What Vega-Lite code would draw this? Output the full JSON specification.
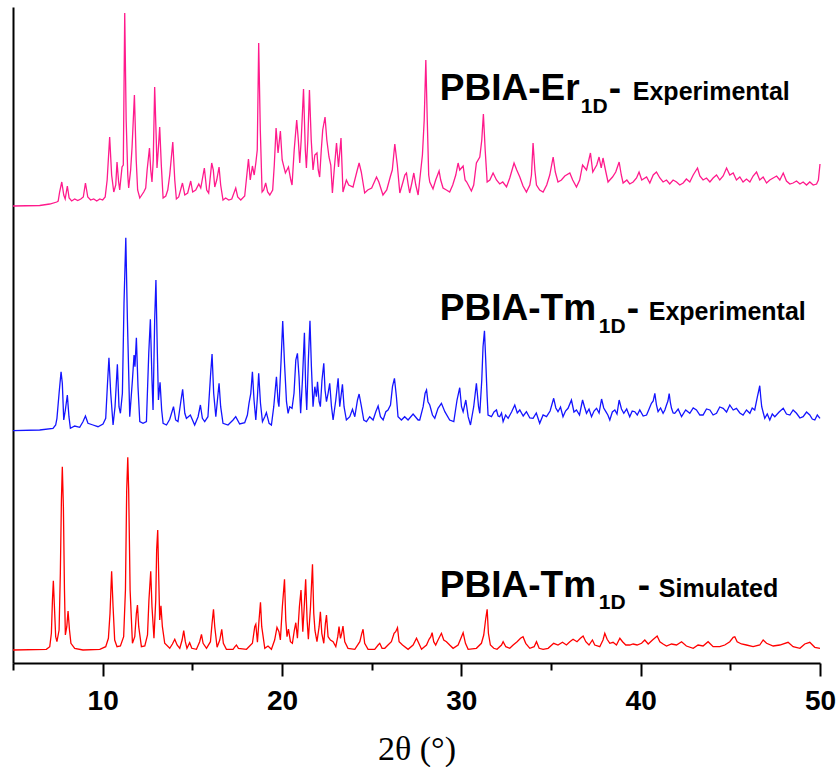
{
"$schema":"https://vega.github.io/schema/vega-lite/v6.json",
"width":807,"height":656,
"autosize":"none",
"padding":{"left":13,"top":7,"right":19,"bottom":104},
"background":"white",
"config":{"view":{"stroke":null},"font":"Liberation Sans"},
"layer":[
{"data":{"values":[
{"x":5,"y":457},{"x":6.49,"y":457.5},{"x":7.05,"y":459},{"x":7.44,"y":461},{"x":7.52,"y":462},{"x":7.6,"y":471},{"x":7.72,"y":481},{"x":7.83,"y":468},{"x":7.91,"y":464},{"x":8.03,"y":477},{"x":8.13,"y":465},{"x":8.27,"y":462},{"x":8.44,"y":464},{"x":8.61,"y":462.5},{"x":8.78,"y":464},{"x":8.92,"y":466},{"x":9.04,"y":480},{"x":9.17,"y":466},{"x":9.33,"y":463},{"x":9.5,"y":464},{"x":9.67,"y":462},{"x":9.84,"y":464},{"x":10,"y":463},{"x":10.14,"y":466},{"x":10.25,"y":483},{"x":10.39,"y":526},{"x":10.5,"y":488},{"x":10.62,"y":471},{"x":10.73,"y":478},{"x":10.8,"y":501},{"x":10.89,"y":481},{"x":10.95,"y":473},{"x":11.08,"y":496},{"x":11.15,"y":498},{"x":11.23,"y":650},{"x":11.31,"y":543},{"x":11.4,"y":488},{"x":11.45,"y":475},{"x":11.56,"y":493},{"x":11.64,"y":516},{"x":11.77,"y":568},{"x":11.87,"y":503},{"x":11.95,"y":473},{"x":12.07,"y":465},{"x":12.18,"y":468},{"x":12.29,"y":471},{"x":12.4,"y":475},{"x":12.48,"y":493},{"x":12.61,"y":515},{"x":12.68,"y":493},{"x":12.75,"y":481},{"x":12.82,"y":503},{"x":12.9,"y":576},{"x":12.99,"y":523},{"x":13.03,"y":495},{"x":13.1,"y":513},{"x":13.18,"y":536},{"x":13.27,"y":498},{"x":13.37,"y":465},{"x":13.52,"y":467},{"x":13.63,"y":473},{"x":13.74,"y":488},{"x":13.91,"y":521},{"x":14.02,"y":483},{"x":14.11,"y":464},{"x":14.24,"y":466},{"x":14.45,"y":480},{"x":14.58,"y":468},{"x":14.74,"y":470},{"x":14.91,"y":482},{"x":15.02,"y":471},{"x":15.19,"y":473},{"x":15.36,"y":479},{"x":15.47,"y":475},{"x":15.67,"y":495},{"x":15.8,"y":473},{"x":15.91,"y":470},{"x":16.08,"y":500},{"x":16.17,"y":493},{"x":16.25,"y":476},{"x":16.36,"y":483},{"x":16.49,"y":496},{"x":16.58,"y":478},{"x":16.71,"y":463},{"x":16.86,"y":465},{"x":17.03,"y":463},{"x":17.2,"y":464},{"x":17.42,"y":475},{"x":17.53,"y":466},{"x":17.7,"y":463},{"x":17.92,"y":467},{"x":18.13,"y":504},{"x":18.23,"y":483},{"x":18.35,"y":497},{"x":18.45,"y":488},{"x":18.54,"y":500},{"x":18.62,"y":513},{"x":18.7,"y":620},{"x":18.79,"y":533},{"x":18.89,"y":471},{"x":18.98,"y":473},{"x":19.09,"y":480},{"x":19.2,"y":471},{"x":19.32,"y":468},{"x":19.48,"y":473},{"x":19.57,"y":498},{"x":19.67,"y":535},{"x":19.78,"y":510},{"x":19.91,"y":532},{"x":20.01,"y":503},{"x":20.19,"y":490},{"x":20.36,"y":496},{"x":20.49,"y":483},{"x":20.56,"y":478},{"x":20.68,"y":513},{"x":20.82,"y":543},{"x":20.91,"y":523},{"x":20.99,"y":500},{"x":21.07,"y":523},{"x":21.2,"y":574},{"x":21.3,"y":513},{"x":21.36,"y":495},{"x":21.44,"y":523},{"x":21.53,"y":573},{"x":21.63,"y":523},{"x":21.73,"y":493},{"x":21.83,"y":508},{"x":21.95,"y":510},{"x":22.02,"y":493},{"x":22.1,"y":486},{"x":22.19,"y":513},{"x":22.27,"y":533},{"x":22.4,"y":546},{"x":22.5,"y":523},{"x":22.62,"y":506},{"x":22.72,"y":498},{"x":22.81,"y":470},{"x":22.91,"y":493},{"x":23.04,"y":520},{"x":23.15,"y":496},{"x":23.29,"y":525},{"x":23.4,"y":471},{"x":23.59,"y":483},{"x":23.72,"y":478},{"x":23.96,"y":476},{"x":24.17,"y":491},{"x":24.3,"y":500},{"x":24.42,"y":491},{"x":24.61,"y":470},{"x":24.78,"y":473},{"x":25,"y":475},{"x":25.27,"y":486},{"x":25.4,"y":481},{"x":25.63,"y":468},{"x":25.84,"y":473},{"x":26.05,"y":487},{"x":26.15,"y":493},{"x":26.29,"y":519},{"x":26.43,"y":498},{"x":26.57,"y":470},{"x":26.73,"y":480},{"x":26.85,"y":488},{"x":26.94,"y":490},{"x":27.04,"y":478},{"x":27.12,"y":470},{"x":27.24,"y":480},{"x":27.35,"y":490},{"x":27.46,"y":478},{"x":27.59,"y":468},{"x":27.71,"y":488},{"x":27.83,"y":508},{"x":27.93,"y":543},{"x":28.02,"y":603},{"x":28.1,"y":543},{"x":28.18,"y":488},{"x":28.24,"y":481},{"x":28.42,"y":474},{"x":28.57,"y":483},{"x":28.76,"y":492},{"x":28.85,"y":483},{"x":28.98,"y":475},{"x":29.17,"y":473},{"x":29.35,"y":471},{"x":29.52,"y":478},{"x":29.69,"y":488},{"x":29.82,"y":500},{"x":29.91,"y":493},{"x":30.1,"y":497},{"x":30.21,"y":483},{"x":30.3,"y":481},{"x":30.56,"y":472},{"x":30.69,"y":478},{"x":30.84,"y":500},{"x":31.03,"y":506},{"x":31.14,"y":523},{"x":31.23,"y":549},{"x":31.33,"y":513},{"x":31.44,"y":481},{"x":31.59,"y":483},{"x":31.77,"y":490},{"x":31.96,"y":483},{"x":32.14,"y":479},{"x":32.31,"y":481},{"x":32.52,"y":476},{"x":32.7,"y":485},{"x":32.94,"y":500},{"x":33.09,"y":493},{"x":33.26,"y":486},{"x":33.44,"y":477},{"x":33.63,"y":471},{"x":33.82,"y":478},{"x":33.91,"y":488},{"x":34,"y":520},{"x":34.1,"y":493},{"x":34.19,"y":478},{"x":34.37,"y":473},{"x":34.56,"y":471},{"x":34.76,"y":478},{"x":34.93,"y":488},{"x":35.12,"y":506},{"x":35.24,"y":491},{"x":35.39,"y":481},{"x":35.58,"y":483},{"x":35.77,"y":487},{"x":36.05,"y":490},{"x":36.21,"y":483},{"x":36.42,"y":476},{"x":36.6,"y":483},{"x":36.76,"y":498},{"x":36.98,"y":493},{"x":37.2,"y":510},{"x":37.33,"y":491},{"x":37.55,"y":498},{"x":37.68,"y":506},{"x":37.8,"y":495},{"x":37.9,"y":505},{"x":38.06,"y":491},{"x":38.18,"y":481},{"x":38.28,"y":483},{"x":38.43,"y":486},{"x":38.61,"y":491},{"x":38.8,"y":501},{"x":38.92,"y":488},{"x":39.02,"y":480},{"x":39.23,"y":483},{"x":39.39,"y":479},{"x":39.58,"y":481},{"x":39.77,"y":485},{"x":39.91,"y":491},{"x":40.06,"y":483},{"x":40.33,"y":486},{"x":40.51,"y":480},{"x":40.7,"y":488},{"x":40.88,"y":491},{"x":41.07,"y":485},{"x":41.25,"y":481},{"x":41.44,"y":483},{"x":41.62,"y":479},{"x":41.81,"y":483},{"x":42,"y":481},{"x":42.18,"y":478},{"x":42.37,"y":480},{"x":42.55,"y":484},{"x":42.74,"y":481},{"x":42.93,"y":488},{"x":43.17,"y":495},{"x":43.3,"y":487},{"x":43.48,"y":483},{"x":43.67,"y":485},{"x":43.86,"y":481},{"x":44.04,"y":485},{"x":44.23,"y":488},{"x":44.41,"y":483},{"x":44.6,"y":487},{"x":44.79,"y":495},{"x":44.97,"y":488},{"x":45.16,"y":490},{"x":45.34,"y":483},{"x":45.53,"y":486},{"x":45.71,"y":481},{"x":45.9,"y":484},{"x":46.09,"y":481},{"x":46.27,"y":487},{"x":46.46,"y":491},{"x":46.64,"y":483},{"x":46.83,"y":486},{"x":47.02,"y":480},{"x":47.2,"y":483},{"x":47.39,"y":485},{"x":47.58,"y":487},{"x":47.76,"y":483},{"x":47.95,"y":490},{"x":48.13,"y":482},{"x":48.32,"y":479},{"x":48.5,"y":480},{"x":48.69,"y":482},{"x":48.88,"y":479},{"x":49.06,"y":481},{"x":49.25,"y":478},{"x":49.43,"y":481},{"x":49.62,"y":478},{"x":49.81,"y":479},{"x":49.91,"y":483},{"x":50,"y":499}
]},
"mark":{"type":"line","color":"#ff1a8c","strokeWidth":1.3},
"encoding":{
"x":{"field":"x","type":"quantitative","scale":{"domain":[5,50],"nice":false,"zero":false},
"axis":{"values":[5,10,15,20,25,30,35,40,45,50],"labelExpr":"datum.value % 10 === 0 ? datum.label : ''","tickSize":{"condition":{"test":"datum.value % 10 === 0","value":13},"value":7},"tickWidth":2,"tickColor":"black","domainColor":"black","domainWidth":2,"grid":false,"labelFont":"Liberation Sans","labelFontSize":28,"labelFontWeight":"bold","labelColor":"black","labelPadding":11,"labelFlush":false,"labelOverlap":false,"title":"2θ (°)","titleFont":"Liberation Serif","titleFontSize":34,"titleFontWeight":"normal","titleColor":"black","titlePadding":17}},
"y":{"field":"y","type":"quantitative","scale":{"domain":[0,656],"nice":false,"zero":false},
"axis":{"title":null,"labels":false,"ticks":false,"grid":false,"domainColor":"black","domainWidth":2}}
}},
{"data":{"values":[
{"x":5,"y":232.3},{"x":6.49,"y":233},{"x":7.23,"y":234.7},{"x":7.38,"y":238},{"x":7.45,"y":244.7},{"x":7.57,"y":269.7},{"x":7.68,"y":291.3},{"x":7.75,"y":279.7},{"x":7.83,"y":243},{"x":7.92,"y":253},{"x":8.03,"y":268},{"x":8.12,"y":246.3},{"x":8.2,"y":234.7},{"x":8.44,"y":237},{"x":8.72,"y":235.7},{"x":8.9,"y":241.3},{"x":9.04,"y":247},{"x":9.18,"y":239.7},{"x":9.46,"y":238},{"x":9.74,"y":236.3},{"x":10.02,"y":239},{"x":10.17,"y":244.7},{"x":10.26,"y":276.3},{"x":10.35,"y":305.3},{"x":10.45,"y":269.7},{"x":10.58,"y":238},{"x":10.69,"y":256.3},{"x":10.82,"y":298.7},{"x":10.91,"y":256.3},{"x":10.99,"y":249.7},{"x":11.1,"y":269.7},{"x":11.19,"y":359.7},{"x":11.29,"y":425.3},{"x":11.38,"y":343},{"x":11.51,"y":246.3},{"x":11.66,"y":283},{"x":11.75,"y":308},{"x":11.8,"y":296.3},{"x":11.88,"y":325.3},{"x":11.97,"y":276.3},{"x":12.07,"y":241.3},{"x":12.25,"y":239.7},{"x":12.44,"y":241.3},{"x":12.57,"y":309.7},{"x":12.66,"y":343.7},{"x":12.75,"y":283},{"x":12.81,"y":253},{"x":12.9,"y":343},{"x":12.97,"y":383},{"x":13.05,"y":309.7},{"x":13.11,"y":263},{"x":13.2,"y":280.7},{"x":13.29,"y":253},{"x":13.37,"y":239.7},{"x":13.56,"y":238},{"x":13.74,"y":243.7},{"x":13.95,"y":256.3},{"x":14.07,"y":243},{"x":14.2,"y":241.3},{"x":14.37,"y":263},{"x":14.46,"y":273.7},{"x":14.58,"y":249.7},{"x":14.67,"y":244.7},{"x":14.78,"y":246.3},{"x":14.89,"y":248},{"x":15.13,"y":238},{"x":15.32,"y":246.3},{"x":15.45,"y":258},{"x":15.56,"y":244.7},{"x":15.69,"y":241.3},{"x":15.87,"y":246.3},{"x":16.01,"y":286.3},{"x":16.1,"y":309},{"x":16.19,"y":269.7},{"x":16.31,"y":246.3},{"x":16.4,"y":263},{"x":16.49,"y":279.7},{"x":16.58,"y":256.3},{"x":16.71,"y":239.7},{"x":16.99,"y":238},{"x":17.27,"y":243},{"x":17.42,"y":246.3},{"x":17.64,"y":239},{"x":17.92,"y":240.3},{"x":18.07,"y":248},{"x":18.16,"y":259.7},{"x":18.26,"y":269.7},{"x":18.35,"y":291.3},{"x":18.44,"y":263},{"x":18.54,"y":243},{"x":18.63,"y":266.3},{"x":18.7,"y":289.7},{"x":18.8,"y":259.7},{"x":18.91,"y":241.3},{"x":19.04,"y":246.3},{"x":19.13,"y":250.3},{"x":19.28,"y":239.7},{"x":19.41,"y":238},{"x":19.54,"y":256.3},{"x":19.69,"y":286.3},{"x":19.78,"y":261.3},{"x":19.83,"y":256.3},{"x":19.95,"y":303},{"x":20.04,"y":342},{"x":20.14,"y":299.7},{"x":20.25,"y":261.3},{"x":20.34,"y":249.7},{"x":20.43,"y":256.3},{"x":20.56,"y":254.7},{"x":20.67,"y":269.7},{"x":20.77,"y":303},{"x":20.86,"y":309.7},{"x":20.95,"y":286.3},{"x":21.04,"y":249.7},{"x":21.14,"y":283},{"x":21.25,"y":330.3},{"x":21.32,"y":276.3},{"x":21.38,"y":253},{"x":21.47,"y":303},{"x":21.56,"y":342.3},{"x":21.64,"y":296.3},{"x":21.73,"y":256.3},{"x":21.83,"y":276.3},{"x":21.92,"y":266.3},{"x":21.98,"y":281.3},{"x":22.07,"y":261.3},{"x":22.14,"y":256.3},{"x":22.23,"y":283},{"x":22.33,"y":299.7},{"x":22.4,"y":273},{"x":22.48,"y":261.3},{"x":22.57,"y":269.7},{"x":22.66,"y":279.7},{"x":22.76,"y":256.3},{"x":22.85,"y":243},{"x":23,"y":263},{"x":23.13,"y":284.7},{"x":23.22,"y":256.3},{"x":23.37,"y":278.7},{"x":23.46,"y":256.3},{"x":23.59,"y":243},{"x":23.78,"y":246.3},{"x":23.93,"y":253.7},{"x":24.06,"y":246.3},{"x":24.21,"y":263},{"x":24.3,"y":269},{"x":24.43,"y":256.3},{"x":24.56,"y":243},{"x":24.71,"y":241.3},{"x":24.89,"y":246.3},{"x":25.08,"y":243},{"x":25.23,"y":251.3},{"x":25.36,"y":257},{"x":25.49,"y":246.3},{"x":25.64,"y":243},{"x":25.79,"y":251.3},{"x":25.91,"y":253},{"x":26.05,"y":258},{"x":26.16,"y":276.3},{"x":26.27,"y":284.7},{"x":26.38,"y":266.3},{"x":26.47,"y":246.3},{"x":26.66,"y":243},{"x":26.84,"y":246.3},{"x":27.03,"y":243},{"x":27.31,"y":249},{"x":27.59,"y":243},{"x":27.68,"y":243},{"x":27.87,"y":256.3},{"x":27.98,"y":269.7},{"x":28.06,"y":273},{"x":28.14,"y":261.3},{"x":28.24,"y":258},{"x":28.39,"y":248},{"x":28.52,"y":244.7},{"x":28.7,"y":254.7},{"x":28.89,"y":259.7},{"x":29.08,"y":251.3},{"x":29.35,"y":243},{"x":29.58,"y":241.3},{"x":29.76,"y":263},{"x":29.91,"y":275.3},{"x":30.01,"y":256.3},{"x":30.1,"y":251.3},{"x":30.25,"y":263},{"x":30.38,"y":246.3},{"x":30.51,"y":238},{"x":30.69,"y":256.3},{"x":30.84,"y":279.7},{"x":30.96,"y":256.3},{"x":31.03,"y":249.7},{"x":31.14,"y":283},{"x":31.21,"y":316.3},{"x":31.29,"y":332.3},{"x":31.36,"y":303},{"x":31.44,"y":266.3},{"x":31.49,"y":248},{"x":31.68,"y":246.3},{"x":31.82,"y":251},{"x":31.96,"y":253},{"x":32.05,"y":247},{"x":32.14,"y":246.3},{"x":32.24,"y":250},{"x":32.33,"y":241.3},{"x":32.47,"y":248},{"x":32.61,"y":244.7},{"x":32.8,"y":251},{"x":32.98,"y":258},{"x":33.12,"y":250},{"x":33.26,"y":253},{"x":33.45,"y":247},{"x":33.63,"y":251.3},{"x":33.82,"y":245},{"x":34,"y":244.7},{"x":34.18,"y":250},{"x":34.37,"y":239.7},{"x":34.56,"y":248},{"x":34.75,"y":246.3},{"x":34.95,"y":252},{"x":35.15,"y":264.7},{"x":35.27,"y":255},{"x":35.39,"y":251.3},{"x":35.53,"y":256},{"x":35.67,"y":246.3},{"x":35.81,"y":252},{"x":35.95,"y":254.7},{"x":36.14,"y":263},{"x":36.28,"y":251},{"x":36.42,"y":253},{"x":36.59,"y":248},{"x":36.76,"y":263},{"x":36.87,"y":256},{"x":36.98,"y":249.7},{"x":37.12,"y":254},{"x":37.26,"y":246.3},{"x":37.4,"y":252},{"x":37.54,"y":254.7},{"x":37.68,"y":250},{"x":37.82,"y":264},{"x":37.94,"y":255},{"x":38.06,"y":251.3},{"x":38.17,"y":248},{"x":38.28,"y":243},{"x":38.42,"y":251},{"x":38.56,"y":253},{"x":38.68,"y":249},{"x":38.8,"y":263},{"x":38.93,"y":254},{"x":39.06,"y":249.7},{"x":39.22,"y":254},{"x":39.39,"y":246.3},{"x":39.53,"y":252},{"x":39.67,"y":251.3},{"x":39.81,"y":248},{"x":39.95,"y":253},{"x":40.14,"y":247},{"x":40.33,"y":248},{"x":40.47,"y":254},{"x":40.6,"y":259.7},{"x":40.7,"y":262},{"x":40.79,"y":269.7},{"x":40.88,"y":258},{"x":40.97,"y":251.3},{"x":41.11,"y":255},{"x":41.25,"y":249.7},{"x":41.35,"y":253},{"x":41.44,"y":258},{"x":41.52,"y":262},{"x":41.59,"y":269.3},{"x":41.66,"y":260},{"x":41.72,"y":254.7},{"x":41.81,"y":250},{"x":41.9,"y":249.7},{"x":42.09,"y":254},{"x":42.28,"y":246.3},{"x":42.51,"y":253},{"x":42.74,"y":249.7},{"x":42.93,"y":255},{"x":43.11,"y":253},{"x":43.3,"y":248},{"x":43.48,"y":248},{"x":43.67,"y":254},{"x":43.86,"y":253},{"x":44.04,"y":248},{"x":44.23,"y":249.7},{"x":44.41,"y":256},{"x":44.6,"y":254.7},{"x":44.79,"y":251},{"x":44.97,"y":258},{"x":45.16,"y":253},{"x":45.34,"y":254.7},{"x":45.53,"y":250},{"x":45.71,"y":248},{"x":45.9,"y":253},{"x":46.09,"y":249.7},{"x":46.22,"y":255},{"x":46.36,"y":253},{"x":46.51,"y":266.3},{"x":46.58,"y":272},{"x":46.64,"y":277.3},{"x":46.7,"y":265},{"x":46.75,"y":256.3},{"x":46.84,"y":250},{"x":46.92,"y":244.7},{"x":47.06,"y":249},{"x":47.2,"y":243},{"x":47.34,"y":249},{"x":47.48,"y":246.3},{"x":47.72,"y":251},{"x":47.95,"y":254.7},{"x":48.13,"y":249},{"x":48.32,"y":248},{"x":48.5,"y":253},{"x":48.69,"y":249.7},{"x":48.88,"y":245},{"x":49.06,"y":246.3},{"x":49.25,"y":251},{"x":49.43,"y":248},{"x":49.57,"y":244},{"x":49.71,"y":243},{"x":49.85,"y":248},{"x":50,"y":244.7}
]},
"mark":{"type":"line","color":"#1414ff","strokeWidth":1.3},
"encoding":{"x":{"field":"x","type":"quantitative"},"y":{"field":"y","type":"quantitative"}}},
{"data":{"values":[
{"x":5,"y":13},{"x":6.86,"y":13.7},{"x":7.05,"y":16.3},{"x":7.14,"y":29.7},{"x":7.2,"y":63},{"x":7.25,"y":82.3},{"x":7.31,"y":56.3},{"x":7.38,"y":26.3},{"x":7.45,"y":21.3},{"x":7.57,"y":33},{"x":7.64,"y":89.7},{"x":7.7,"y":163},{"x":7.75,"y":196.3},{"x":7.81,"y":156.3},{"x":7.87,"y":73},{"x":7.92,"y":28},{"x":8,"y":36.3},{"x":8.07,"y":52},{"x":8.15,"y":33},{"x":8.23,"y":19.7},{"x":8.44,"y":14.7},{"x":8.9,"y":13},{"x":9.84,"y":13.7},{"x":10.17,"y":16.3},{"x":10.32,"y":24.7},{"x":10.41,"y":49.7},{"x":10.5,"y":91.7},{"x":10.58,"y":56.3},{"x":10.67,"y":23},{"x":10.8,"y":16.3},{"x":10.99,"y":17},{"x":11.17,"y":26.3},{"x":11.27,"y":73},{"x":11.34,"y":173},{"x":11.4,"y":205.7},{"x":11.45,"y":173},{"x":11.53,"y":73},{"x":11.66,"y":19.7},{"x":11.79,"y":26.3},{"x":11.88,"y":49.7},{"x":11.94,"y":58},{"x":12.01,"y":36.3},{"x":12.16,"y":16.3},{"x":12.35,"y":17},{"x":12.5,"y":28},{"x":12.58,"y":63},{"x":12.68,"y":91.7},{"x":12.75,"y":56.3},{"x":12.86,"y":24.7},{"x":12.96,"y":63},{"x":13.01,"y":113},{"x":13.07,"y":133},{"x":13.13,"y":83},{"x":13.18,"y":43},{"x":13.25,"y":57.3},{"x":13.33,"y":36.3},{"x":13.46,"y":19.7},{"x":13.74,"y":14.7},{"x":13.89,"y":19},{"x":14.02,"y":23.7},{"x":14.15,"y":18},{"x":14.3,"y":14.7},{"x":14.43,"y":23},{"x":14.52,"y":32.3},{"x":14.61,"y":21.3},{"x":14.7,"y":14.7},{"x":14.85,"y":20.3},{"x":14.97,"y":14.7},{"x":15.23,"y":13.7},{"x":15.41,"y":21.3},{"x":15.51,"y":28.7},{"x":15.6,"y":19.7},{"x":15.79,"y":14.7},{"x":16.01,"y":21.3},{"x":16.1,"y":39.7},{"x":16.18,"y":53.7},{"x":16.25,"y":36.3},{"x":16.38,"y":15.7},{"x":16.53,"y":23},{"x":16.64,"y":33.7},{"x":16.73,"y":19.7},{"x":16.9,"y":13.7},{"x":17.27,"y":13.7},{"x":17.38,"y":16.3},{"x":17.46,"y":18},{"x":17.57,"y":14.7},{"x":18.02,"y":13.7},{"x":18.35,"y":19.7},{"x":18.48,"y":36.3},{"x":18.54,"y":38.7},{"x":18.63,"y":20.7},{"x":18.72,"y":43},{"x":18.8,"y":60.7},{"x":18.87,"y":36.3},{"x":19.04,"y":14.7},{"x":19.22,"y":17},{"x":19.41,"y":13.7},{"x":19.59,"y":23},{"x":19.72,"y":35.7},{"x":19.83,"y":31.3},{"x":19.91,"y":23},{"x":20.02,"y":56.3},{"x":20.14,"y":83.7},{"x":20.21,"y":43},{"x":20.28,"y":26.3},{"x":20.36,"y":34},{"x":20.47,"y":21.3},{"x":20.58,"y":19.7},{"x":20.69,"y":33},{"x":20.77,"y":40.3},{"x":20.86,"y":24.7},{"x":20.97,"y":56.3},{"x":21.06,"y":73},{"x":21.16,"y":31.3},{"x":21.25,"y":59.7},{"x":21.32,"y":83.7},{"x":21.4,"y":43},{"x":21.47,"y":23.7},{"x":21.59,"y":56.3},{"x":21.7,"y":98.7},{"x":21.77,"y":49.7},{"x":21.84,"y":32.3},{"x":21.95,"y":21.3},{"x":22.07,"y":36.3},{"x":22.14,"y":51.3},{"x":22.22,"y":29.7},{"x":22.33,"y":19.7},{"x":22.42,"y":39.7},{"x":22.48,"y":48},{"x":22.57,"y":26.3},{"x":22.7,"y":23},{"x":22.85,"y":21.3},{"x":23,"y":16.3},{"x":23.11,"y":26.3},{"x":23.18,"y":36.3},{"x":23.26,"y":24.7},{"x":23.33,"y":29.7},{"x":23.4,"y":37},{"x":23.5,"y":21.3},{"x":23.68,"y":14.7},{"x":24.06,"y":13.7},{"x":24.34,"y":21.3},{"x":24.45,"y":29.7},{"x":24.52,"y":33.7},{"x":24.61,"y":19.7},{"x":24.8,"y":13.7},{"x":25.17,"y":13.7},{"x":25.36,"y":18},{"x":25.45,"y":19.7},{"x":25.58,"y":14.7},{"x":25.73,"y":14.7},{"x":25.91,"y":18},{"x":26.1,"y":21.3},{"x":26.25,"y":29.7},{"x":26.34,"y":31.3},{"x":26.44,"y":35.3},{"x":26.53,"y":21.3},{"x":26.72,"y":18},{"x":27.03,"y":13.7},{"x":27.31,"y":18},{"x":27.5,"y":24.7},{"x":27.78,"y":13.7},{"x":28.06,"y":18},{"x":28.2,"y":23.7},{"x":28.3,"y":26.3},{"x":28.37,"y":30.3},{"x":28.46,"y":21.3},{"x":28.57,"y":18},{"x":28.7,"y":23},{"x":28.89,"y":29.7},{"x":29.02,"y":23},{"x":29.17,"y":21.3},{"x":29.35,"y":18},{"x":29.54,"y":14.7},{"x":29.82,"y":18},{"x":30.01,"y":26.3},{"x":30.1,"y":30.3},{"x":30.23,"y":19.7},{"x":30.38,"y":13.7},{"x":30.84,"y":14.7},{"x":31.12,"y":19.7},{"x":31.25,"y":28},{"x":31.35,"y":43},{"x":31.44,"y":53.7},{"x":31.51,"y":29.7},{"x":31.62,"y":18},{"x":31.81,"y":14.7},{"x":31.99,"y":13.7},{"x":32.24,"y":18},{"x":32.33,"y":21.3},{"x":32.48,"y":16.3},{"x":32.7,"y":14.7},{"x":32.89,"y":18},{"x":33.11,"y":21.3},{"x":33.3,"y":24.7},{"x":33.44,"y":26.3},{"x":33.59,"y":19.7},{"x":33.82,"y":14.7},{"x":34.06,"y":16.3},{"x":34.19,"y":21.3},{"x":34.34,"y":14.7},{"x":34.56,"y":13.7},{"x":34.84,"y":14.7},{"x":35.15,"y":19.7},{"x":35.39,"y":18},{"x":35.64,"y":20.7},{"x":35.86,"y":18},{"x":36.05,"y":21.3},{"x":36.23,"y":23.7},{"x":36.45,"y":21.3},{"x":36.64,"y":24.7},{"x":36.79,"y":27},{"x":36.94,"y":21.3},{"x":37.12,"y":18},{"x":37.31,"y":23},{"x":37.44,"y":18},{"x":37.72,"y":16.3},{"x":37.9,"y":23},{"x":38,"y":29.7},{"x":38.13,"y":23.7},{"x":38.28,"y":19.7},{"x":38.46,"y":20.7},{"x":38.65,"y":18},{"x":38.84,"y":24.7},{"x":38.99,"y":21.3},{"x":39.17,"y":18},{"x":39.39,"y":18},{"x":39.58,"y":19},{"x":39.8,"y":18},{"x":40.05,"y":19.7},{"x":40.23,"y":23},{"x":40.42,"y":19},{"x":40.66,"y":23},{"x":40.92,"y":27},{"x":41.07,"y":21.3},{"x":41.25,"y":19},{"x":41.44,"y":17},{"x":41.72,"y":19},{"x":42,"y":18},{"x":42.28,"y":21.3},{"x":42.55,"y":17},{"x":42.93,"y":14.7},{"x":43.2,"y":18},{"x":43.48,"y":17},{"x":43.76,"y":21.3},{"x":44.04,"y":16.3},{"x":44.41,"y":16.3},{"x":44.69,"y":18},{"x":44.97,"y":21.3},{"x":45.16,"y":25.7},{"x":45.25,"y":26.3},{"x":45.38,"y":21.3},{"x":45.62,"y":19},{"x":45.9,"y":18},{"x":46.27,"y":16.3},{"x":46.64,"y":18},{"x":46.83,"y":23},{"x":47.02,"y":19.7},{"x":47.39,"y":17},{"x":47.76,"y":18},{"x":48.22,"y":20.7},{"x":48.5,"y":16.3},{"x":48.88,"y":14.7},{"x":49.15,"y":19},{"x":49.43,"y":20.7},{"x":49.71,"y":15.7},{"x":50,"y":14.7}
]},
"mark":{"type":"line","color":"#ff0000","strokeWidth":1.3},
"encoding":{"x":{"field":"x","type":"quantitative"},"y":{"field":"y","type":"quantitative"}}},
{"data":{"values":[
{"t":"PBIA-Er","x":28.8,"y":563},{"t":"-","x":38.22,"y":563},
{"t":"PBIA-Tm","x":28.8,"y":343},{"t":"-","x":39.23,"y":343},
{"t":"PBIA-Tm","x":28.8,"y":66},{"t":"-","x":39.84,"y":66}
]},
"mark":{"type":"text","align":"left","baseline":"alphabetic","font":"Liberation Sans","fontSize":37,"fontWeight":"bold","color":"black"},
"encoding":{"x":{"field":"x","type":"quantitative"},"y":{"field":"y","type":"quantitative"},"text":{"field":"t"}}},
{"data":{"values":[
{"t":"1D","x":36.66,"y":550},{"t":"1D","x":37.66,"y":330},{"t":"1D","x":37.66,"y":54}
]},
"mark":{"type":"text","align":"left","baseline":"alphabetic","font":"Liberation Sans","fontSize":21,"fontWeight":"bold","color":"black"},
"encoding":{"x":{"field":"x","type":"quantitative"},"y":{"field":"y","type":"quantitative"},"text":{"field":"t"}}},
{"data":{"values":[
{"t":"Experimental","x":39.56,"y":563},{"t":"Experimental","x":40.45,"y":343},{"t":"Simulated","x":41.01,"y":66}
]},
"mark":{"type":"text","align":"left","baseline":"alphabetic","font":"Liberation Sans","fontSize":25,"fontWeight":"bold","color":"black"},
"encoding":{"x":{"field":"x","type":"quantitative"},"y":{"field":"y","type":"quantitative"},"text":{"field":"t"}}}
]
}
